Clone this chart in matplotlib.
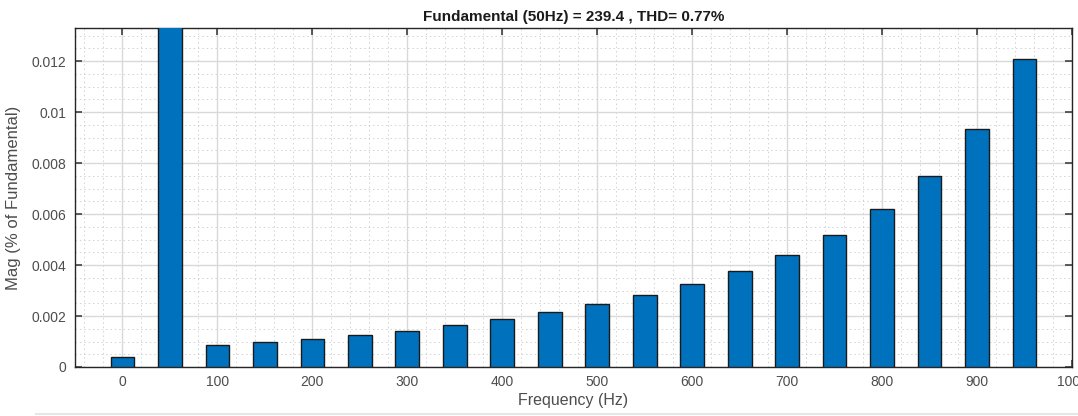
import matplotlib
matplotlib.use("Agg")
import matplotlib.pyplot as plt
import numpy as np
from matplotlib.ticker import MultipleLocator

# harmonic frequencies (Hz) and magnitudes (% of fundamental)
freqs = [0, 50, 100, 150, 200, 250, 300, 350, 400, 450, 500,
         550, 600, 650, 700, 750, 800, 850, 900, 950]
mags = [0.00039, 100.0, 0.00086, 0.00097, 0.0011, 0.00125, 0.00142, 0.00165,
        0.00188, 0.00214, 0.00247, 0.00282, 0.00325, 0.00378, 0.00439,
        0.00518, 0.00618, 0.00748, 0.00933, 0.01208]

title_txt = "Fundamental (50Hz) = 239.4 , THD= 0.77%"

plt.rcParams['font.family'] = ['Liberation Sans', 'DejaVu Sans']

fig = plt.figure(figsize=(10.78, 4.16), dpi=100)
ax = fig.add_axes([75/1078, 49/416, 997/1078, 339/416])

ax.bar(freqs, mags, width=25, color='#0072BD', edgecolor='#1a1a1a',
       linewidth=1.0, zorder=3)

ax.set_xlim(-50, 1000)
ax.set_ylim(0, 0.0133)
ax.xaxis.set_major_locator(MultipleLocator(100))
ax.xaxis.set_minor_locator(MultipleLocator(20))
ax.yaxis.set_major_locator(MultipleLocator(0.002))
ax.yaxis.set_minor_locator(MultipleLocator(0.0005))
ax.set_yticks(np.arange(0, 0.0121, 0.002))
ax.set_yticklabels(['0', '0.002', '0.004', '0.006', '0.008', '0.01', '0.012'])

ax.grid(which='major', color='#d9d9d9', linewidth=1.0, zorder=0)
ax.grid(which='minor', color='#d2d2d2', linewidth=0.7, linestyle=(0, (1.5, 3)), zorder=0)
ax.set_axisbelow(True)

ax.tick_params(which='major', direction='in', length=5, width=1.2, color='#404040',
               top=True, right=True, labelsize=10, labelcolor='#4d4d4d', pad=6)
ax.tick_params(which='minor', length=0, top=True, right=True)
for s in ax.spines.values():
    s.set_color('#262626')
    s.set_linewidth(1.0)

ax.set_title(title_txt, fontsize=11, fontweight='bold', color='#1a1a1a', pad=5)
ax.set_xlabel("Frequency (Hz)", fontsize=11.5, color='#4d4d4d', labelpad=3)
ax.set_ylabel("Mag (% of Fundamental)", fontsize=12, color='#4d4d4d', labelpad=8)

fig.add_artist(plt.Line2D([0.033, 1.0], [2/416, 2/416], color='#e6e6e6', linewidth=1.5))

fig.savefig("out.png", dpi=100)
